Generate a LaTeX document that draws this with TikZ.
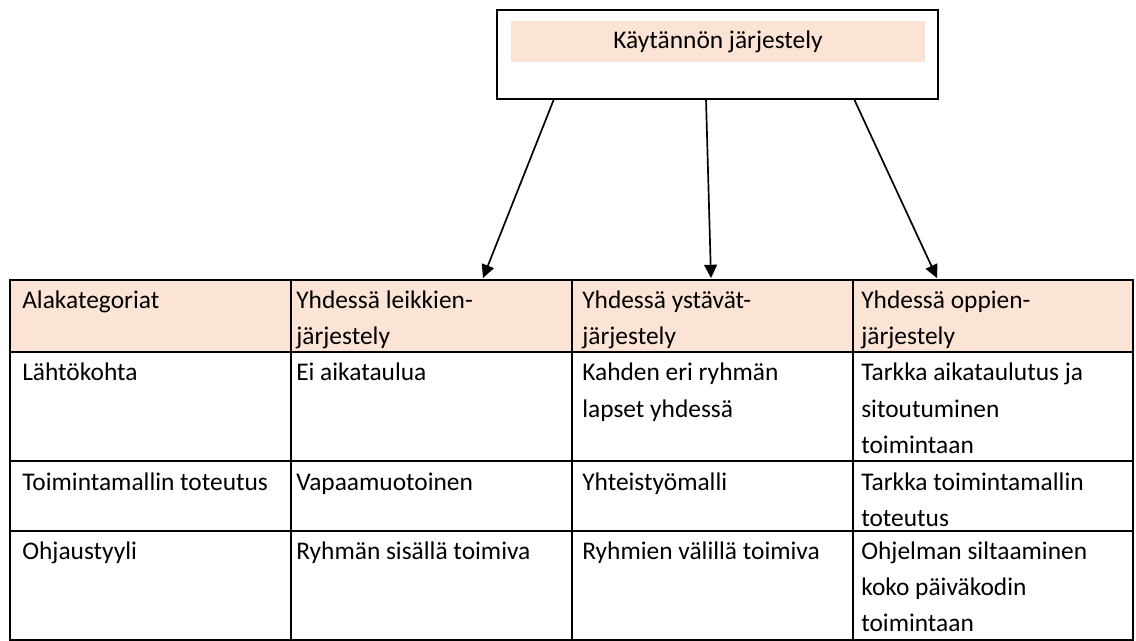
\documentclass[tikz,border=0pt]{standalone}
\usepackage{fontspec}
\setmainfont{Carlito}
\usetikzlibrary{arrows.meta}
\definecolor{peach}{HTML}{FBE4D5}
\tikzset{
  txt/.style={anchor=base west, inner sep=0pt, font=\fontsize{18.07pt}{26pt}\selectfont},
  ttl/.style={anchor=base, inner sep=0pt, font=\fontsize{18.07pt}{26pt}\selectfont},
  grid/.style={line width=1.4pt},
  conn/.style={line width=1.2pt, -{Triangle[length=0.33cm,width=0.32cm]}}
}
\begin{document}
\begin{tikzpicture}[x=0.025cm,y=-0.025cm]
\useasboundingbox (0,0) rectangle (1136,640);
% top box
\node[draw, line width=1.2pt, minimum width=11.025cm, minimum height=2.225cm, inner sep=0pt] (top) at (717.5,54.5) {};
\node[fill=peach, minimum width=10.35cm, minimum height=1.025cm, inner sep=0pt] (band) at (718,41.5) {};
\node[ttl] (title) at (718,48) {Käytännön järjestely};
% table
\fill[peach] (10,280) rectangle (1133,352);
\draw[grid] (10,280) rectangle (1133,640);
\draw[grid] (10,352) -- (1133,352);
\draw[grid] (10,461) -- (1133,461);
\draw[grid] (10,531) -- (1133,531);
\draw[grid] (291,280) -- (291,640);
\draw[grid] (572,280) -- (572,640);
\draw[grid] (853,280) -- (853,640);
% arrow endpoints
\coordinate (s1) at (554,99);
\coordinate (s2) at (706,99);
\coordinate (s3) at (854,99);
\coordinate (e1) at (483,278);
\coordinate (e2) at (711,278);
\coordinate (e3) at (937,278);
\draw[conn] (s1) -- (e1);
\draw[conn] (s2) -- (e2);
\draw[conn] (s3) -- (e3);
% header
\node[txt] (h1) at (22,308) {Alakategoriat};
\node[txt] (h2a) at (296,308) {Yhdessä leikkien-};
\node[txt] (h2b) at (296,344) {järjestely};
\node[txt] (h3a) at (582,308) {Yhdessä ystävät-};
\node[txt] (h3b) at (582,344) {järjestely};
\node[txt] (h4a) at (861,308) {Yhdessä oppien-};
\node[txt] (h4b) at (861,344) {järjestely};
% row 1
\node[txt] (r1c1) at (22,380) {Lähtökohta};
\node[txt] (r1c2) at (296,380) {Ei aikataulua};
\node[txt] (r1c3a) at (582,380) {Kahden eri ryhmän};
\node[txt] (r1c3b) at (582,417) {lapset yhdessä};
\node[txt] (r1c4a) at (861,380) {Tarkka aikataulutus ja};
\node[txt] (r1c4b) at (861,417) {sitoutuminen};
\node[txt] (r1c4c) at (861,453) {toimintaan};
% row 2
\node[txt] (r2c1) at (22,490) {Toimintamallin toteutus};
\node[txt] (r2c2) at (296,490) {Vapaamuotoinen};
\node[txt] (r2c3) at (582,490) {Yhteistyömalli};
\node[txt] (r2c4a) at (861,490) {Tarkka toimintamallin};
\node[txt] (r2c4b) at (861,526) {toteutus};
% row 3
\node[txt] (r3c1) at (22,559) {Ohjaustyyli};
\node[txt] (r3c2) at (296,559) {Ryhmän sisällä toimiva};
\node[txt] (r3c3) at (582,559) {Ryhmien välillä toimiva};
\node[txt] (r3c4a) at (861,559) {Ohjelman siltaaminen};
\node[txt] (r3c4b) at (861,595) {koko päiväkodin};
\node[txt] (r3c4c) at (861,631) {toimintaan};
\end{tikzpicture}
\end{document}
